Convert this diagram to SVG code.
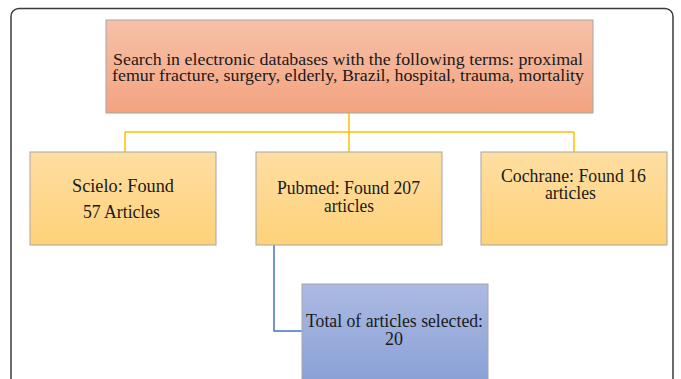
<svg xmlns="http://www.w3.org/2000/svg" width="681" height="379" viewBox="0 0 681 379">
<defs>
<linearGradient id="gOrange" x1="0" y1="0" x2="0" y2="1"><stop offset="0" stop-color="#f6c1a8"/><stop offset="1" stop-color="#f4a380"/></linearGradient>
<linearGradient id="gYellow" x1="0" y1="0" x2="0" y2="1"><stop offset="0" stop-color="#fedea2"/><stop offset="1" stop-color="#fed27a"/></linearGradient>
<linearGradient id="gBlue" x1="0" y1="0" x2="0" y2="1"><stop offset="0" stop-color="#abbae2"/><stop offset="1" stop-color="#8aa0d6"/></linearGradient>
<style>
.box{stroke:#a5a5a5;stroke-width:1}
.t{font-family:"Liberation Serif","Times New Roman",serif;fill:#1a1a1a;text-anchor:middle}
.y{fill:none;stroke:#ffc000;stroke-width:1.5}
.b{fill:none;stroke:#4472c4;stroke-width:1.5}
</style>
</defs>
<rect x="0" y="0" width="681" height="379" fill="#ffffff"/>
<rect id="frame" x="11" y="8.5" width="662" height="400" rx="8" fill="#ffffff" stroke="#3a3a3a" stroke-width="1.5"/>
<g id="connectors">
<path class="y" d="M349 113 V132 M125 132 H574 M125 132 V152 M349 132 V152 M574 132 V152"/>
<path class="b" d="M274 245 V331 H302"/>
</g>
<g id="search">
<rect class="box" x="106" y="20" width="487" height="93" fill="url(#gOrange)"/>
<text class="t" font-size="17" x="348" y="65" textLength="470" lengthAdjust="spacingAndGlyphs">Search in electronic databases with the following terms: proximal</text>
<text class="t" font-size="17" x="348" y="81" textLength="472" lengthAdjust="spacingAndGlyphs">femur fracture, surgery, elderly, Brazil, hospital, trauma, mortality</text>
</g>
<g id="scielo">
<rect class="box" x="30" y="152" width="186" height="93" fill="url(#gYellow)"/>
<text class="t" font-size="18" x="123" y="192" textLength="102" lengthAdjust="spacingAndGlyphs">Scielo:  Found</text>
<text class="t" font-size="18" x="121.5" y="218" textLength="77" lengthAdjust="spacingAndGlyphs">57 Articles</text>
</g>
<g id="pubmed">
<rect class="box" x="256" y="152" width="186" height="93" fill="url(#gYellow)"/>
<text class="t" font-size="18" x="348.5" y="194" textLength="143" lengthAdjust="spacingAndGlyphs">Pubmed: Found 207</text>
<text class="t" font-size="18" x="349" y="212" textLength="50" lengthAdjust="spacingAndGlyphs">articles</text>
</g>
<g id="cochrane">
<rect class="box" x="481" y="152" width="186" height="93" fill="url(#gYellow)"/>
<text class="t" font-size="18" x="573.5" y="182" textLength="145" lengthAdjust="spacingAndGlyphs">Cochrane: Found 16</text>
<text class="t" font-size="18" x="570.5" y="199" textLength="51" lengthAdjust="spacingAndGlyphs">articles</text>
</g>
<g id="total">
<rect class="box" x="302" y="284" width="186" height="100" fill="url(#gBlue)"/>
<text class="t" font-size="18" x="394.5" y="327" textLength="177" lengthAdjust="spacingAndGlyphs">Total of articles  selected:</text>
<text class="t" font-size="18" x="394" y="345">20</text>
</g>
</svg>
